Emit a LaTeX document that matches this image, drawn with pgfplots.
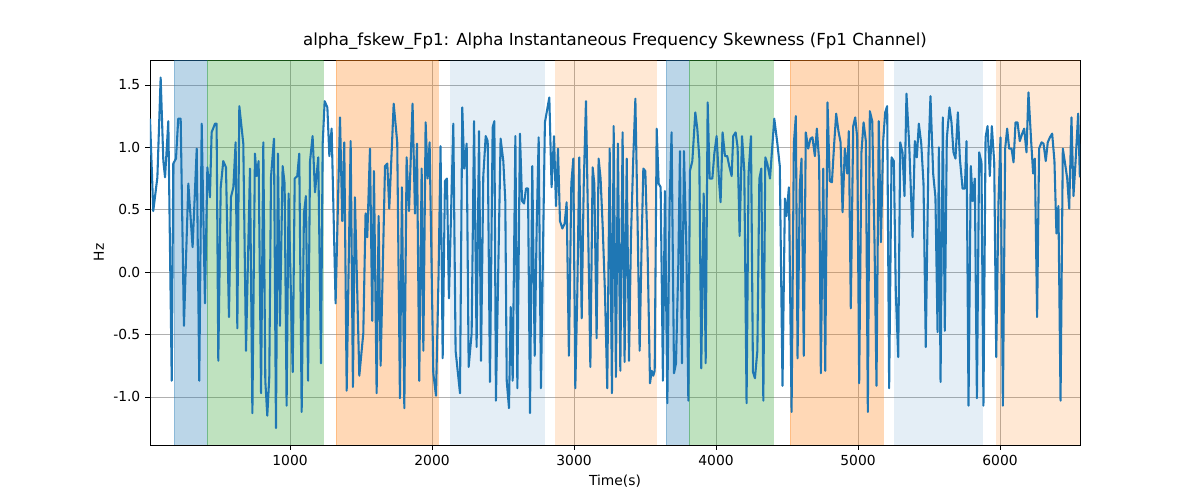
\documentclass[border=0pt]{standalone}
\usepackage{pgfplots}
\pgfplotsset{compat=1.18}
\usepackage{fontspec}
\setmainfont{DejaVu Sans}
\definecolor{tabblue}{HTML}{1F77B4}
\definecolor{tabgreen}{HTML}{2CA02C}
\definecolor{taborange}{HTML}{FF7F0E}
\definecolor{gridgray}{HTML}{B0B0B0}
\begin{document}
\begin{tikzpicture}
\useasboundingbox (-1.5in,-0.55in) rectangle (10.5in,4.45in);
\begin{axis}[
  scale only axis, width=9.3in, height=3.85in,
  at={(0,0)}, anchor=south west,
  xmin=14, xmax=6563, ymin=-1.385, ymax=1.70,
  xtick={1000,2000,3000,4000,5000,6000},
  ytick={-1.0,-0.5,0,0.5,1.0,1.5},
  xtick pos=bottom, ytick pos=left,
  xticklabel style={/pgf/number format/.cd,1000 sep={}},
  yticklabel style={/pgf/number format/.cd,fixed,fixed zerofill,precision=1},
  /pgf/number format/assume math mode=true,
  scaled x ticks=false,
  grid=major, grid style={color=gridgray, line width=0.6pt},
  tick align=outside, tick style={black, line width=0.6pt},
  major tick length=3.5pt,
  ticklabel style={font=\fontsize{10}{12}\selectfont},
  xlabel={Time(s)}, ylabel={Hz},
  label style={font=\fontsize{10}{12}\selectfont},
  title={alpha\_fskew\_Fp1: Alpha Instantaneous Frequency Skewness (Fp1 Channel)},
  title style={font=\fontsize{12}{14}\selectfont, yshift=-2pt},
  axis line style={line width=0.6pt},
]
\addplot[fill=tabblue, fill opacity=0.3, draw=tabblue, draw opacity=0.3] coordinates {(183,-1.385)(183,1.7)(415,1.7)(415,-1.385)} -- cycle;
\addplot[fill=tabgreen, fill opacity=0.3, draw=tabgreen, draw opacity=0.3] coordinates {(415,-1.385)(415,1.7)(1232,1.7)(1232,-1.385)} -- cycle;
\addplot[fill=taborange, fill opacity=0.3, draw=taborange, draw opacity=0.3] coordinates {(1324,-1.385)(1324,1.7)(2042,1.7)(2042,-1.385)} -- cycle;
\addplot[fill=tabblue, fill opacity=0.12, draw=none] coordinates {(2127,-1.385)(2127,1.7)(2796,1.7)(2796,-1.385)} -- cycle;
\addplot[fill=taborange, fill opacity=0.18, draw=none] coordinates {(2866,-1.385)(2866,1.7)(3585,1.7)(3585,-1.385)} -- cycle;
\addplot[fill=tabblue, fill opacity=0.3, draw=tabblue, draw opacity=0.3] coordinates {(3648,-1.385)(3648,1.7)(3810,1.7)(3810,-1.385)} -- cycle;
\addplot[fill=tabgreen, fill opacity=0.3, draw=tabgreen, draw opacity=0.3] coordinates {(3810,-1.385)(3810,1.7)(4401,1.7)(4401,-1.385)} -- cycle;
\addplot[fill=taborange, fill opacity=0.3, draw=taborange, draw opacity=0.3] coordinates {(4521,-1.385)(4521,1.7)(5176,1.7)(5176,-1.385)} -- cycle;
\addplot[fill=tabblue, fill opacity=0.12, draw=none] coordinates {(5254,-1.385)(5254,1.7)(5880,1.7)(5880,-1.385)} -- cycle;
\addplot[fill=taborange, fill opacity=0.18, draw=none] coordinates {(5972,-1.385)(5972,1.7)(6563,1.7)(6563,-1.385)} -- cycle;
\addplot[tabblue, line width=1.5pt, line join=round] table {
14 1.23
37 0.49
66 0.76
89 1.56
108 0.89
120 0.76
143 1.21
167 -0.87
178 0.87
197 0.91
213 1.23
230 1.23
253 -0.43
284 0.71
314 0.20
343 0.99
361 -0.87
378 1.19
401 -0.25
418 0.84
436 0.60
448 1.12
472 1.19
483 1.19
495 -0.71
512 0.68
530 0.89
549 0.84
570 -0.36
584 0.60
601 0.68
617 1.04
629 -0.45
643 1.33
671 1.03
690 -0.63
718 0.83
735 -1.13
753 0.95
765 0.77
779 0.89
796 -0.97
812 1.04
826 -0.87
840 -1.15
854 -0.84
866 0.76
887 1.07
901 -1.25
915 0.95
929 -0.43
948 0.85
962 0.71
976 -1.07
990 0.63
1019 -0.80
1033 0.75
1051 0.77
1065 0.95
1082 -1.12
1098 0.47
1112 0.61
1127 -0.87
1141 0.89
1159 1.09
1176 0.64
1199 0.92
1218 -0.73
1230 1.03
1244 1.37
1263 1.32
1277 0.93
1293 1.15
1321 -0.25
1352 1.24
1368 0.41
1382 1.04
1399 -0.95
1427 1.05
1443 -0.92
1457 0.60
1488 -0.83
1516 -0.49
1532 0.47
1544 0.28
1563 0.99
1579 -0.39
1591 0.81
1610 -0.97
1624 0.45
1638 -0.75
1669 0.85
1685 0.87
1699 0.51
1730 1.35
1755 1.04
1774 -1.01
1788 0.68
1805 -1.09
1821 0.92
1838 0.49
1863 1.35
1880 0.47
1894 1.03
1910 -0.87
1927 0.83
1939 -0.63
1955 1.20
1969 0.75
1983 1.04
2009 -0.81
2028 -0.99
2046 -0.03
2060 1.01
2075 -0.69
2091 0.73
2105 0.75
2119 -0.21
2150 1.19
2166 -0.63
2197 -0.97
2213 1.32
2227 0.83
2244 1.03
2258 -0.76
2279 -0.49
2296 1.21
2314 -0.60
2331 1.13
2345 -0.71
2361 0.77
2378 1.09
2392 1.05
2408 -0.88
2427 1.16
2439 1.21
2450 -1.03
2483 1.07
2502 0.89
2516 0.57
2526 -0.87
2542 -1.09
2554 -0.28
2568 -0.87
2587 1.09
2601 -0.93
2619 1.11
2634 0.57
2648 0.55
2662 0.67
2676 0.67
2690 -1.13
2706 0.85
2723 -0.67
2737 0.36
2751 1.08
2767 -0.93
2795 1.20
2826 1.40
2842 0.68
2859 1.09
2873 0.53
2887 0.99
2901 0.41
2918 0.35
2934 0.39
2948 0.56
2964 -0.67
2981 0.71
2995 0.91
3009 -0.93
3023 -0.17
3037 0.92
3054 -0.37
3068 0.68
3084 1.37
3101 0.24
3115 -0.76
3131 0.84
3143 0.71
3159 -0.53
3173 0.91
3187 0.75
3202 0.36
3218 -0.17
3234 -0.93
3251 0.99
3267 -0.97
3279 1.17
3295 -0.84
3309 1.03
3326 -0.79
3342 1.12
3356 -0.72
3371 0.91
3387 -0.71
3401 0.28
3417 0.91
3432 1.39
3448 0.36
3462 -0.63
3476 0.23
3488 0.83
3502 0.81
3518 0.17
3535 -0.89
3547 -0.79
3558 -0.83
3568 -0.79
3582 1.15
3596 0.71
3610 0.68
3626 -0.87
3640 0.65
3657 -1.05
3673 0.55
3687 1.12
3704 -0.81
3718 -0.73
3734 0.04
3746 0.97
3760 -0.73
3774 0.97
3791 0.20
3805 -1.03
3816 0.81
3833 0.89
3854 1.28
3868 1.15
3882 0.92
3896 -0.77
3913 0.63
3927 -0.73
3941 1.36
3955 0.75
3974 0.75
3988 0.95
4004 1.09
4021 0.73
4032 0.56
4046 1.12
4063 0.93
4079 0.93
4093 0.85
4110 0.77
4121 1.09
4138 1.12
4152 1.00
4166 0.29
4183 1.09
4199 0.81
4215 -1.05
4229 0.79
4246 1.09
4260 -0.80
4274 -0.85
4291 -0.63
4305 0.75
4319 0.83
4333 -1.03
4347 0.92
4361 0.87
4380 0.75
4410 1.23
4431 1.04
4449 0.85
4468 -0.91
4485 0.59
4496 0.45
4513 0.68
4532 -1.12
4548 1.03
4562 1.25
4574 -0.69
4590 0.69
4602 0.91
4618 -0.67
4632 1.12
4649 0.99
4665 1.07
4679 1.08
4696 0.93
4710 1.15
4726 0.89
4738 -0.81
4755 0.83
4769 -0.79
4785 1.36
4801 0.73
4816 0.72
4832 1.03
4846 1.27
4862 1.13
4877 1.04
4891 0.48
4907 0.99
4924 0.79
4935 1.13
4949 -0.29
4966 1.17
4980 1.24
4994 1.08
5008 -0.89
5024 0.96
5039 1.20
5055 1.05
5069 -1.12
5083 1.29
5100 1.21
5116 0.24
5130 -0.91
5146 1.21
5161 0.24
5177 1.05
5191 1.28
5205 1.33
5219 -0.93
5236 0.92
5252 0.89
5266 -0.17
5283 -0.68
5297 1.04
5313 0.96
5327 0.61
5341 1.43
5360 1.03
5384 0.28
5400 1.05
5414 0.92
5428 1.19
5445 1.03
5461 0.71
5477 -0.60
5496 0.95
5510 1.41
5529 0.79
5545 0.60
5560 -0.48
5569 1.00
5581 -0.88
5597 1.24
5611 -0.47
5625 1.07
5644 1.32
5658 1.20
5672 0.96
5686 0.91
5703 1.28
5717 0.91
5736 0.67
5752 0.67
5764 1.05
5778 -1.07
5794 0.85
5808 0.57
5822 0.75
5837 -1.01
5853 0.96
5869 0.88
5883 -1.07
5898 1.08
5912 1.17
5928 0.77
5942 1.17
5959 0.88
5973 -0.68
5989 0.56
6003 1.08
6020 -1.07
6036 0.99
6050 1.15
6064 0.99
6081 0.99
6095 0.88
6109 1.20
6123 1.20
6139 1.05
6156 1.11
6170 1.15
6186 0.96
6200 1.44
6219 1.05
6233 0.79
6245 0.91
6261 -0.36
6275 0.99
6292 1.04
6306 1.03
6322 0.89
6336 1.04
6351 1.08
6367 1.11
6383 0.89
6397 0.31
6411 0.53
6426 -1.03
6442 0.99
6458 0.87
6473 0.75
6487 0.51
6503 1.24
6517 0.61
6531 0.87
6550 1.27
6562 0.76
};
\end{axis}
\end{tikzpicture}
\end{document}
